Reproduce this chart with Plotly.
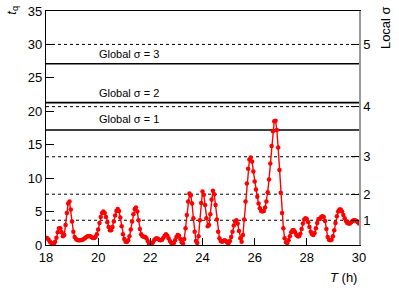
import plotly.graph_objects as go

T = [round(18 + 0.05 * i, 2) for i in range(241)]
tq = [
    1.1, 1.0, 0.8, 0.5, 0.3, 0.15, 0.2, 0.5, 1.1, 1.9, 2.5, 2.5, 1.9, 1.3, 1.5, 3.0, 4.8, 6.2, 6.5, 5.3,
    3.5, 2.0, 1.2, 0.9, 0.75, 0.7, 0.7, 0.75, 0.8, 0.9, 1.05, 1.2, 1.3, 1.35, 1.3, 1.15, 1.05, 1.05, 1.2, 1.6,
    2.3, 3.3, 4.2, 4.8, 5.0, 4.8, 4.2, 3.4, 2.7, 2.2, 2.2, 2.7, 3.5, 4.4, 5.1, 5.4, 5.1, 4.1, 2.8, 1.6,
    0.9, 0.5, 0.45, 0.7, 1.3, 2.3, 3.5, 4.6, 5.4, 5.6, 5.0, 3.7, 2.4, 1.6, 1.3, 1.25, 1.2, 1.0, 0.6, 0.2,
    0.05, 0.1, 0.4, 0.75, 0.95, 1.0, 0.9, 0.75, 0.7, 0.8, 1.1, 1.4, 1.6, 1.4, 1.0, 0.6, 0.35, 0.25, 0.3, 0.7,
    1.2, 1.5, 1.4, 0.9, 0.4, 0.25, 0.9, 2.5, 4.5, 6.5, 7.7, 7.4, 6.2, 4.0, 2.0, 0.6, 0.3, 1.3, 3.7, 6.3,
    8.0, 7.5, 6.0, 4.0, 2.8, 3.0, 4.6, 6.8, 8.1, 7.6, 6.0, 3.8, 2.0, 1.0, 0.6, 0.5, 0.6, 0.7, 0.6, 0.35,
    0.3, 0.6, 1.2, 2.0, 2.9, 3.5, 3.7, 3.2, 2.1, 1.0, 0.5, 1.5, 3.8, 6.5, 9.2, 11.4, 12.8, 13.1, 12.5, 11.0,
    9.5, 8.3, 7.2, 6.2, 5.5, 5.1, 5.0, 5.1, 5.6, 6.5, 7.9, 9.8, 12.2, 14.8, 17.0, 18.5, 18.6, 17.2, 14.6, 11.2,
    7.8, 4.8, 2.5, 1.0, 0.4, 0.3, 0.7, 1.3, 1.9, 2.2, 2.2, 1.9, 1.5, 1.3, 1.3, 1.7, 2.4, 3.2, 3.8, 4.0,
    3.9, 3.4, 2.7, 2.0, 1.6, 1.5, 1.8, 2.5, 3.3, 3.9, 3.9, 4.2, 4.3, 4.2, 3.6, 2.4, 1.2, 0.8, 0.7, 0.8,
    1.3, 2.2, 3.3, 4.3, 5.0, 5.3, 5.3, 5.0, 4.5, 4.0, 3.6, 3.3, 3.2, 3.2, 3.4, 3.6, 3.7, 3.7, 3.6, 3.4,
    3.2,
]

local_sigma_t = [3.7, 7.6, 13.2, 20.7, 30.0]
local_sigma_labels = ["1", "2", "3", "4", "5"]
global_sigma_t = [17.2, 21.3, 27.1]
global_labels = ["Global σ = 1", "Global σ = 2", "Global σ = 3"]
global_label_t = [18.8, 22.7, 28.5]

x_ticks = [18, 20, 22, 24, 26, 28, 30]
y_ticks = [0, 5, 10, 15, 20, 25, 30, 35]

FONT = "Liberation Sans, Arial, sans-serif"

fig = go.Figure()
fig.add_trace(go.Scatter(
    x=T, y=tq, mode="lines+markers",
    line=dict(color="#ff0000", width=1.4),
    marker=dict(color="#ff0000", size=4.5),
    showlegend=False,
))
fig.add_trace(go.Scatter(x=[18], y=[0], yaxis="y2", mode="markers",
                         marker=dict(opacity=0), showlegend=False, hoverinfo="skip"))

for v in local_sigma_t:
    fig.add_shape(type="line", x0=18, x1=30, y0=v, y1=v, xref="x", yref="y",
                  line=dict(color="black", width=1, dash="dot"), layer="below")
for v in global_sigma_t:
    fig.add_shape(type="line", x0=18, x1=30, y0=v, y1=v, xref="x", yref="y",
                  line=dict(color="black", width=1.6), layer="below")
for lab, v in zip(global_labels, global_label_t):
    fig.add_annotation(x=21.2, y=v, xref="x", yref="y", text=lab, showarrow=False,
                       font=dict(family=FONT, size=11, color="black"))

fig.add_annotation(xref="paper", yref="paper", x=1.0, y=-0.10, xanchor="right", yanchor="top",
                   text="<i>T</i> (h)", showarrow=False, font=dict(family=FONT, size=13, color="black"))
fig.add_annotation(xref="paper", yref="paper", x=-0.108, y=1.03, xanchor="center", yanchor="top",
                   text="<i>t</i><sub>q</sub>", textangle=-90, showarrow=False,
                   font=dict(family=FONT, size=13, color="black"))
fig.add_annotation(xref="paper", yref="paper", x=1.085, y=1.03, xanchor="center", yanchor="top",
                   text="Local σ", textangle=-90, showarrow=False,
                   font=dict(family=FONT, size=13, color="black"))

fig.update_layout(
    width=399, height=288,
    margin=dict(l=46, r=40, t=11, b=43, autoexpand=False),
    paper_bgcolor="white", plot_bgcolor="white",
    font=dict(family=FONT, size=13, color="black"),
    xaxis=dict(range=[18, 30], tickvals=x_ticks, ticks="inside", ticklen=7, tickcolor="black",
               showline=True, linecolor="black", linewidth=1.2, mirror=True, showgrid=False,
               zeroline=False, tickfont=dict(size=13), ticklabeloverflow="allow"),
    yaxis=dict(range=[0, 35], tickvals=y_ticks, ticks="inside", ticklen=8, tickcolor="black",
               showline=True, linecolor="black", linewidth=1.2, showgrid=False, zeroline=False,
               tickfont=dict(size=13), ticklabeloverflow="allow"),
    yaxis2=dict(range=[0, 35], overlaying="y", side="right", tickvals=local_sigma_t,
                ticktext=local_sigma_labels, ticks="inside", ticklen=8, tickcolor="black",
                showline=True, linecolor="#999999", linewidth=1.5, showgrid=False, zeroline=False,
                tickfont=dict(size=13), ticklabeloverflow="allow"),
)

fig.write_html("out.html", config={"displayModeBar": False},
               post_script="document.body.style.margin='0';")
